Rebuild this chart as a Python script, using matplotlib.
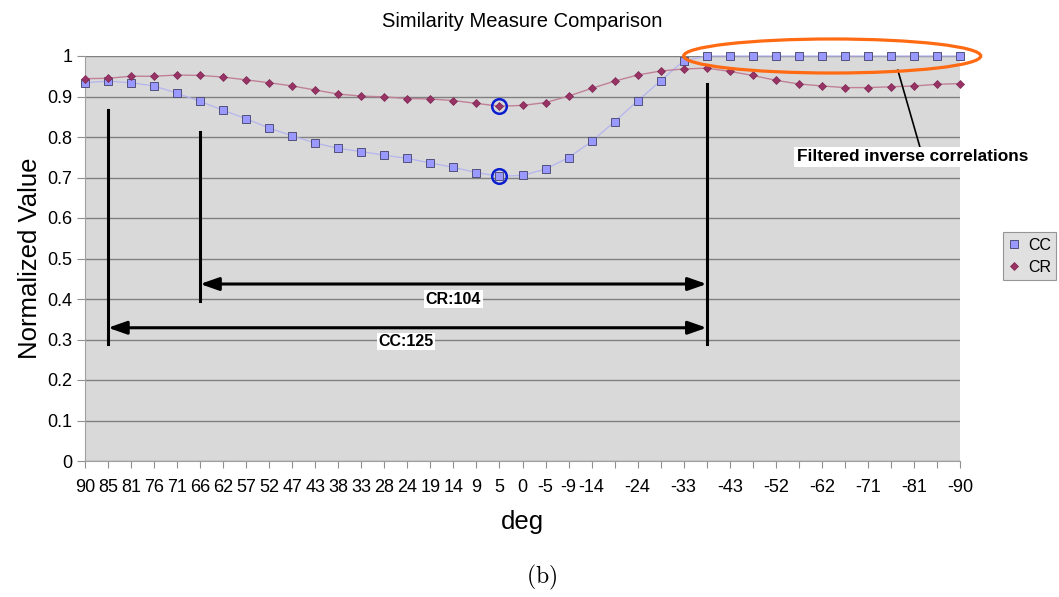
import matplotlib
matplotlib.use("Agg")
import matplotlib.pyplot as plt
from matplotlib.patches import Ellipse

plt.rcParams['font.family'] = ['Liberation Sans', 'DejaVu Sans']
plt.rcParams['mathtext.fontset'] = 'cm'

# angle labels (category axis), one per sample
deg_labels = ['90', '85', '81', '76', '71', '66', '62', '57', '52', '47', '43', '38', '33',
              '28', '24', '19', '14', '9', '5', '0', '-5', '-9', '-14', '-19', '-24', '-28',
              '-33', '-38', '-43', '-47', '-52', '-57', '-62', '-66', '-71', '-76', '-81',
              '-85', '-90']

cc = [0.934, 0.938, 0.934, 0.926, 0.908, 0.888, 0.866, 0.845, 0.822, 0.803, 0.785, 0.772,
      0.764, 0.755, 0.747, 0.736, 0.725, 0.712, 0.703, 0.705, 0.721, 0.749, 0.789, 0.838,
      0.889, 0.939, 0.988, 1.0, 1.0, 1.0, 1.0, 1.0, 1.0, 1.0, 1.0, 1.0, 1.0, 1.0, 1.0]

cr = [0.944, 0.945, 0.950, 0.950, 0.953, 0.952, 0.948, 0.941, 0.934, 0.926, 0.916, 0.906,
      0.901, 0.899, 0.895, 0.894, 0.890, 0.883, 0.876, 0.878, 0.885, 0.901, 0.920, 0.938,
      0.953, 0.963, 0.968, 0.970, 0.962, 0.952, 0.940, 0.931, 0.926, 0.922, 0.922, 0.924,
      0.926, 0.930, 0.932]

# labels hidden by the spreadsheet after -14 (every other one)
shown = [i < 23 or i % 2 == 0 for i in range(len(deg_labels))]
tick_text = [lab if s else '' for lab, s in zip(deg_labels, shown)]

x = list(range(len(deg_labels)))
marked = 18  # the "5" sample circled in the picture

fig = plt.figure(figsize=(10.59, 5.97), dpi=100)
ax = fig.add_axes([85 / 1059, 1 - 461 / 597, 875 / 1059, 405 / 597])
ax.set_facecolor('#d9d9d9')

ax.plot(x, cc, color='#b4b4f0', lw=0.9, marker='s', ms=5.8, mfc='#9999ff',
        mec='#50507a', mew=0.7, label='CC', zorder=3, clip_on=False)
ax.plot(x, cr, color='#c08098', lw=1.0, marker='D', ms=4.2, mfc='#993366',
        mec='#7a2850', mew=0.5, label='CR', zorder=4, clip_on=False)

# blue circles on the minimum
ax.plot([x[marked]] * 2, [cc[marked], cr[marked]], ls='none', marker='o', ms=10.5,
        mfc='none', mec='#0a1ed0', mew=1.8, zorder=5)

ax.set_xlim(0, len(x) - 1)
ax.set_ylim(0, 1)
ax.set_xticks(x)
ax.set_xticklabels(tick_text)
ax.set_yticks([i / 10 for i in range(11)])
ax.set_yticklabels(['0', '0.1', '0.2', '0.3', '0.4', '0.5', '0.6', '0.7', '0.8', '0.9', '1'])
ax.tick_params(axis='both', labelsize=13, color='#909090')
ax.tick_params(axis='x', length=5, pad=8)
ax.tick_params(axis='y', length=6, pad=3)
ax.yaxis.grid(True, color='#808080', lw=1.0)
ax.set_axisbelow(True)
for side in ['top', 'right']:
    ax.spines[side].set_visible(False)
for side in ['left', 'bottom']:
    ax.spines[side].set_color('#a0a0a0')

ax.set_title('Similarity Measure Comparison', fontsize=14.5, pad=21)
ax.set_xlabel('deg', fontsize=18.5, labelpad=10)
ax.set_ylabel('Normalized Value', fontsize=18.5, labelpad=4)

# range markers
for xi, top, bottom in [(1, 0.866, 0.289), (5, 0.812, 0.395), (27, 0.93, 0.29)]:
    ax.plot([xi, xi], [bottom, top], color='black', lw=2.2, zorder=6)

for x0, x1, yv, txt, tx, ty in [(5, 27, 0.437, 'CR:104', 16.0, 0.400),
                                (1, 27, 0.329, 'CC:125', 13.95, 0.295)]:
    ax.annotate('', xy=(x0, yv), xytext=(x1, yv),
                arrowprops=dict(arrowstyle='<|-|>,head_length=0.8,head_width=0.28',
                                mutation_scale=14, color='black', lw=2.2,
                                shrinkA=0, shrinkB=0), zorder=6)
    ax.text(tx, ty, txt, ha='center', va='center', fontsize=11.5, fontweight='bold',
            bbox=dict(facecolor='white', edgecolor='none', pad=1.0), zorder=7)

# highlighted saturated region
ell = Ellipse((32.45, 1.0), 12.9, 0.084, fill=False, edgecolor='#ff6a13', lw=2.3,
              clip_on=False, zorder=8)
ax.add_patch(ell)
ax.plot([35.3, 36.26], [0.965, 0.775], color='black', lw=1.2, clip_on=False, zorder=6)
ax.text(35.95, 0.751, 'Filtered inverse correlations', ha='center', va='center',
        fontsize=12.4, fontweight='bold', clip_on=False, zorder=7,
        bbox=dict(facecolor='white', edgecolor='none', pad=2.0))

leg = ax.legend(loc='upper left', bbox_to_anchor=(1003 / 1059, 1 - 232 / 597),
                bbox_transform=fig.transFigure, fontsize=11.5, frameon=True,
                fancybox=False, handlelength=0.7, handletextpad=0.5,
                borderpad=0.35, labelspacing=0.45, borderaxespad=0)
leg.get_frame().set_facecolor('#d9d9d9')
leg.get_frame().set_edgecolor('#808080')
leg.get_frame().set_linewidth(0.8)
for h in leg.get_lines():
    h.set_linestyle('none')

fig.text(542 / 1059, 1 - 577 / 597, r'$\mathrm{(b)}$', ha='center', va='center', fontsize=17)

fig.savefig('out.png', dpi=100)
